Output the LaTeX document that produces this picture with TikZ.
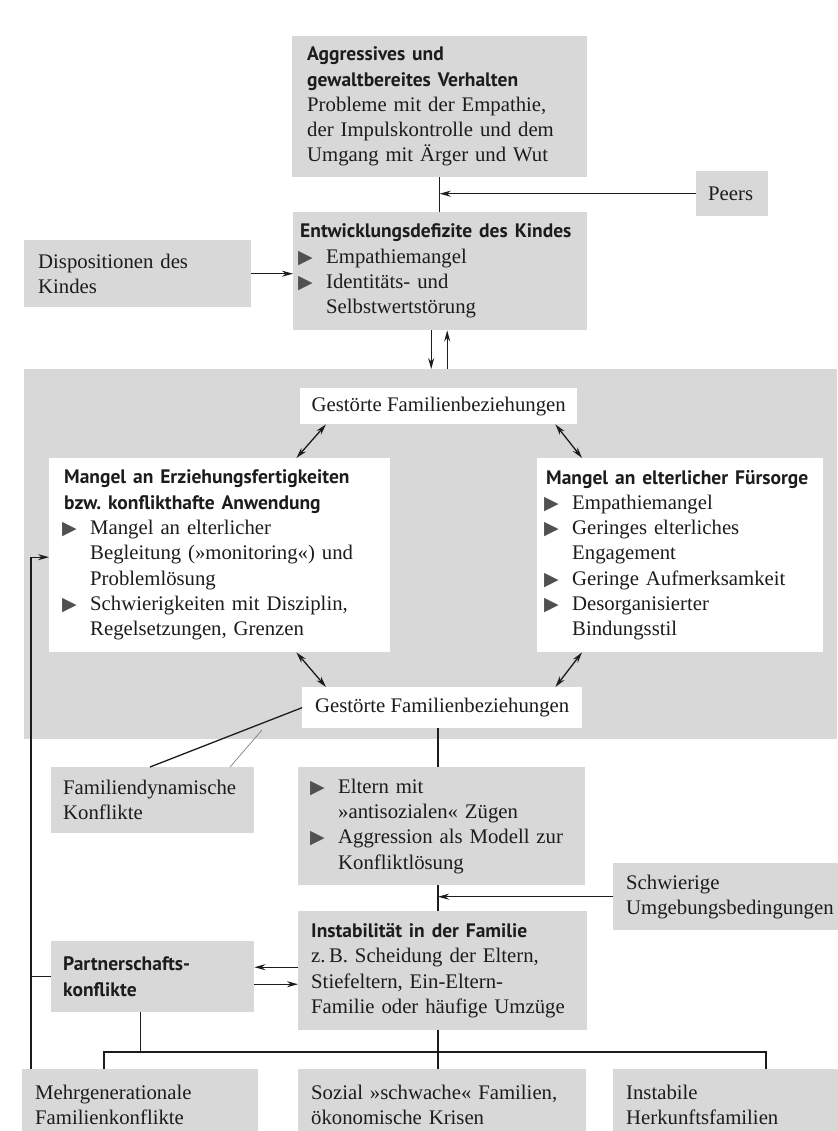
\documentclass[tikz,border=0pt]{standalone}
\usepackage{fontspec}
\setmainfont{Liberation Serif}
\newfontfamily\hsans{PT Sans}
\newfontfamily\symfont{DejaVu Sans}
\usetikzlibrary{arrows.meta}
\hyphenpenalty=10000
\exhyphenpenalty=10000
\frenchspacing
\definecolor{boxgray}{RGB}{216,216,216}
\definecolor{ink}{RGB}{28,28,28}
\definecolor{trigray}{RGB}{80,80,80}
\newcommand{\hd}[1]{\mbox{\hsans\bfseries\fontsize{19.5}{25.3}\selectfont #1}}
\newcommand{\tb}{\makebox[26pt][l]{\color{trigray}\symfont\fontsize{19}{19}\selectfont\hspace*{-2pt}▶}}
\newcommand{\ind}{\hspace*{26pt}}
\tikzset{
  gbox/.style={fill=boxgray, draw=none, anchor=north west, inner ysep=0pt, align=left,
    font=\fontsize{20.75}{25.3}\selectfont, text=ink},
  wbox/.style={gbox, fill=white},
  cbox/.style={fill=white, draw=none, anchor=north west, inner sep=0pt, align=center,
    font=\fontsize{20.75}{25.3}\selectfont, text=ink},
  ln/.style={draw=ink, line width=1.3pt},
  arr/.style={ln, -{Stealth[length=11pt,width=6pt]}},
  darr/.style={ln, {Stealth[length=11pt,width=6pt]}-{Stealth[length=11pt,width=6pt]}},
  thinln/.style={draw=black!55, line width=0.6pt}
}
\begin{document}
\begin{tikzpicture}[x=1pt,y=-1pt]
\useasboundingbox (0,0) rectangle (837,1131);
\fill[white] (0,0) rectangle (837,1131);

% boxes
\node[gbox, minimum width=295pt, minimum height=141pt, inner xsep=15pt, text width=265pt] (topbox) at (292,36)
  {\hd{Aggressives und}\\\hd{gewaltbereites Verhalten}\\Probleme mit der Empathie,\\der Impulskontrolle und dem\\Umgang mit Ärger und Wut};
\node[gbox, minimum width=72pt, minimum height=45pt, inner xsep=12pt, text width=48pt] (peers) at (696,171) {Peers};
\node[gbox, minimum width=294pt, minimum height=118pt, inner xsep=7pt, text width=280pt] (entw) at (293,212)
  {\hd{Entwicklungsdefizite des Kindes}\\\tb Empathiemangel\\\tb Identitäts- und\\\ind Selbstwertstörung};
\node[gbox, minimum width=227pt, minimum height=67pt, inner xsep=14pt, text width=199pt] (dispo) at (24,240)
  {Dispositionen des\\Kindes};

\node[fill=boxgray, anchor=north west, inner sep=0pt, minimum width=813pt, minimum height=370pt] (region) at (24,369) {};

\node[cbox, minimum width=277pt, minimum height=36pt] (gf1) at (300,388) {Gestörte Familienbeziehungen};
\node[wbox, minimum width=341pt, minimum height=194pt, inner xsep=15pt, text width=311pt] (mangelE) at (49,458)
  {\hd{Mangel an Erziehungsfertigkeiten}\\\hd{bzw. konflikthafte Anwendung}\\\tb Mangel an elterlicher\\\ind Begleitung (»monitoring«) und\\\ind Problemlösung\\\tb Schwierigkeiten mit Disziplin,\\\ind Regelsetzungen, Grenzen};
\node[wbox, minimum width=286pt, minimum height=194pt, inner xsep=9pt, text width=268pt] (mangelF) at (537,458)
  {\hd{Mangel an elterlicher Fürsorge}\\\tb Empathiemangel\\\tb Geringes elterliches\\\ind Engagement\\\tb Geringe Aufmerksamkeit\\\tb Desorganisierter\\\ind Bindungsstil};
\node[cbox, minimum width=280pt, minimum height=41pt] (gf2) at (302,687) {Gestörte Familienbeziehungen};

\node[gbox, minimum width=203pt, minimum height=66pt, inner xsep=12pt, text width=179pt] (famdyn) at (51,767)
  {Familiendynamische\\Konflikte};
\node[gbox, minimum width=287pt, minimum height=118pt, inner xsep=14pt, text width=259pt] (eltern) at (298,767)
  {\tb Eltern mit\\\ind »antisozialen« Zügen\\\tb Aggression als Modell zur\\\ind Konfliktlösung};
\node[gbox, minimum width=237pt, minimum height=67pt, inner xsep=13pt, text width=211pt] (schw) at (613,863)
  {Schwierige\\Umgebungsbedingungen};
\node[gbox, minimum width=289pt, minimum height=119pt, inner xsep=13pt, text width=263pt] (instab) at (298,911)
  {\hd{Instabilität in der Familie}\\z.\,B. Scheidung der Eltern,\\Stiefeltern, Ein-Eltern-\\Familie oder häufige Umzüge};
\node[gbox, minimum width=203pt, minimum height=71pt, inner xsep=12pt, text width=179pt] (partner) at (51,941)
  {\hd{Partnerschafts-}\\\hd{konflikte}};
\node[gbox, minimum width=236pt, minimum height=72pt, inner xsep=13pt, text width=210pt] (mehrgen) at (22,1069)
  {Mehrgenerationale\\Familienkonflikte};
\node[gbox, minimum width=288pt, minimum height=72pt, inner xsep=13pt, text width=262pt] (sozial) at (298,1069)
  {Sozial »schwache« Familien,\\ökonomische Krisen};
\node[gbox, minimum width=237pt, minimum height=72pt, inner xsep=13pt, text width=211pt] (instabile) at (613,1069)
  {Instabile\\Herkunftsfamilien};

% connectors
\draw[ln] (topbox.south) -- (topbox.south |- entw.north);
\coordinate (pj) at (topbox.south |- peers.west);
\draw[arr] (peers.west) -- (pj);
\draw[arr] (dispo.east) -- (dispo.east -| entw.west);
\coordinate (ed) at ([xshift=-9pt]entw.south);
\draw[arr] (ed) -- (ed |- region.north);
\coordinate (eu) at ([xshift=7pt]entw.south);
\draw[arr] (eu |- region.north) -- (eu);

\draw[darr] ([xshift=26pt]gf1.south west) -- ([xshift=-94pt]mangelE.north east);
\draw[darr] ([xshift=-22pt]gf1.south east) -- ([xshift=45pt]mangelF.north west);
\draw[darr] ([xshift=-94pt]mangelE.south east) -- ([xshift=24pt]gf2.north west);
\draw[darr] ([xshift=45pt]mangelF.south west) -- ([xshift=-27pt]gf2.north east);

\draw[ln] (gf2.west) -- ([xshift=99pt]famdyn.north west);
\coordinate (th) at (262,730);
\draw[thinln] (th) -- ([xshift=179pt]famdyn.north west);

\coordinate (axis) at (438,0);
\draw[ln] (gf2.south -| axis) -- (eltern.north -| axis);
\draw[ln] (eltern.south -| axis) -- (instab.north -| axis);
\draw[arr] (schw.west) -- (schw.west -| axis);
\coordinate (pl) at ([yshift=9.5pt]partner.east);
\draw[arr] (pl -| instab.west) -- (pl);
\coordinate (pr) at ([yshift=-7.5pt]partner.east);
\draw[arr] (pr) -- (pr -| instab.west);

\draw[ln] (instab.south -| axis) -- (sozial.north -| axis);
\coordinate (busy) at (0,1052);
\coordinate (bl) at ([xshift=82pt]mehrgen.north west);
\coordinate (br) at ([xshift=153pt]instabile.north west);
\draw[ln] (bl) -- (bl |- busy) -- (br |- busy) -- (br);
\coordinate (pd) at ([xshift=-12pt]partner.south);
\draw[ln] (pd) -- (pd |- busy);
\coordinate (ll) at ([xshift=9pt]mehrgen.north west);
\draw[arr] (ll) |- ([yshift=-2pt]mangelE.west);
\draw[ln] (partner.west) -- (partner.west -| ll);
\end{tikzpicture}
\end{document}
